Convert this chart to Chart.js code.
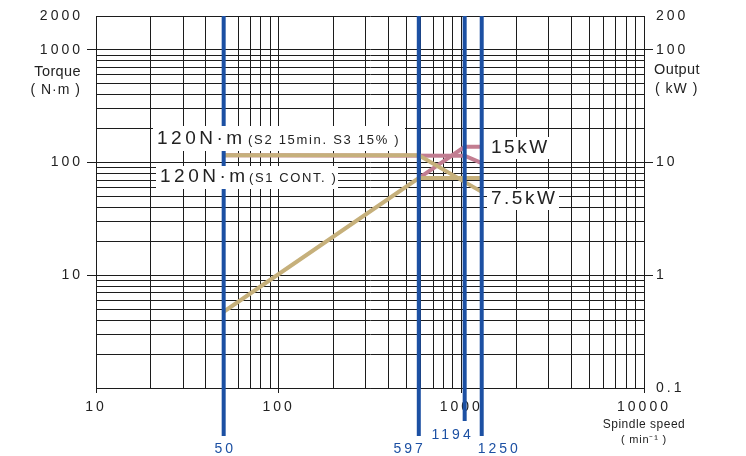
<!DOCTYPE html>
<html><head><meta charset="utf-8">
<script src="https://cdn.jsdelivr.net/npm/chart.js@4/dist/chart.umd.min.js"></script>
<style>html,body{margin:0;padding:0;background:#fff;overflow:hidden}#wrap{width:746px;height:456px;position:relative}canvas{display:block}</style>
</head><body><div id="wrap"><canvas id="c" width="746" height="456" style="width:746px;height:456px"></canvas></div>
<script>
// ---- data ----
const xTickValues = [10,20,30,40,50,60,70,80,90,100,200,300,400,500,600,700,800,900,1000,2000,3000,4000,5000,6000,7000,8000,9000,10000];
const xTickLabels = ['10','100','1000','10000'];
const torqueTickValues = [1,2,3,4,5,6,7,8,9,10,20,30,40,50,60,70,80,90,100,200,300,400,500,600,700,800,900,1000,2000];
const torqueTickLabels = ['10','100','1000','2000'];
const outputTickValues = [0.1,1,10,100,200];
const outputTickLabels = ['0.1','1','10','100','200'];

const s1TorqueSpeed = [50, 585, 1293];
const s1Torque      = [116, 116, 55];
const s1PowerSpeed  = [50, 585, 1293];
const s1Power       = [0.475, 7.3, 7.3];
const s2TorqueSpeed = [50, 1043, 1293];
const s2Torque      = [116, 115, 99];
const s2PowerSpeed  = [580, 1043, 1293];
const s2Power       = [7.2, 13.8, 13.8];

const markerSpeeds = [50, 585, 1043, 1293];
const markerLabels = ['50', '597', '1194', '1250'];

// ---- styles ----
const FONT = 'Liberation Sans, Arial, sans-serif';
const INK = '#222';
const GRID = '#1c1c1c';
const BLUE = '#1c50a3';
const TAN = '#c6b07b';
const PINK = '#c27d91';

const pts = (xs, ys) => xs.map((x, i) => ({x, y: ys[i]}));

const markerDrop = [48, 48, 33, 48];
const markerLabelPos = [ {dx:0, y:449, align:'center'}, {dx:7, y:449, align:'right'}, {dx:9, y:435, align:'right'}, {dx:-4, y:449, align:'left'} ];

const overlay = {
  id: 'overlay',
  afterDatasetsDraw(chart) {
    const ctx = chart.ctx, xs = chart.scales.x, area = chart.chartArea;
    ctx.save();
    markerSpeeds.forEach((v, i) => {
      const x = xs.getPixelForValue(v);
      ctx.strokeStyle = BLUE; ctx.lineWidth = 4; ctx.lineCap = 'butt';
      ctx.beginPath(); ctx.moveTo(x, area.top); ctx.lineTo(x, area.bottom + markerDrop[i]); ctx.stroke();
      const p = markerLabelPos[i];
      ctx.font = '14px ' + FONT; ctx.letterSpacing = '3px';
      ctx.fillStyle = BLUE; ctx.textBaseline = 'middle'; ctx.textAlign = p.align;
      ctx.fillText(markerLabels[i], x + p.dx + (p.align==='center'?1.5:0), p.y);
    });
    ctx.textAlign = 'left'; ctx.textBaseline = 'middle';
    const box = (x0, y0, x1, y1) => { ctx.fillStyle = '#fff'; ctx.fillRect(x0, y0, x1 - x0, y1 - y0); };
    const txt = (s, x, y, size, ls, color) => {
      ctx.font = size + 'px ' + FONT; ctx.letterSpacing = ls + 'px'; ctx.fillStyle = color || INK;
      ctx.fillText(s, x, y);
    };
    box(153, 126, 405, 151);
    txt('120N·m', 157, 139, 19, 3.5);
    txt('(S2 15min. S3 15% )', 248, 140, 13, 1.7);
    box(156, 166, 338, 189);
    txt('120N·m', 160, 177, 19, 3.5);
    txt('(S1 CONT. )', 249, 178, 13, 1.6);
    box(488, 137, 553, 159);
    txt('15kW', 491, 148, 19, 2.5);
    box(487, 189, 559, 210);
    txt('7.5kW', 491, 199, 19, 2.5);
    ctx.textAlign = 'right';
    txt('Torque', 81, 72, 14.5, 0.4);
    txt('( N·m )', 81, 90, 14, 1);
    ctx.textAlign = 'left';
    txt('Output', 654, 70, 14.5, 0.4);
    txt('( kW )', 655, 89, 14, 1);
    ctx.textAlign = 'center';
    txt('Spindle speed', 644, 425, 12, 0.5);
    txt('( min⁻¹ )', 644, 440, 11, 0.8);
    ctx.restore();
  },
  beforeDraw(chart) { chart.ctx.letterSpacing = '3px'; },
  afterDraw(chart) { chart.ctx.letterSpacing = '0px'; }
};

const tickFont = {family: FONT, size: 14};

new Chart(document.getElementById('c'), {
  type: 'line',
  data: {
    datasets: [
      {label: 'S1 torque', data: pts(s1TorqueSpeed, s1Torque), yAxisID: 'yL', borderColor: TAN, borderWidth: 4, order: 1},
      {label: 'S1 output', data: pts(s1PowerSpeed, s1Power), yAxisID: 'yR', borderColor: TAN, borderWidth: 4, order: 1},
      {label: 'S2 torque', data: pts(s2TorqueSpeed, s2Torque), yAxisID: 'yL', borderColor: PINK, borderWidth: 4, order: 2},
      {label: 'S2 output', data: pts(s2PowerSpeed, s2Power), yAxisID: 'yR', borderColor: PINK, borderWidth: 4, order: 2}
    ]
  },
  options: {
    responsive: false, maintainAspectRatio: false, animation: false, devicePixelRatio: 1,
    layout: {padding: {top: 16, left: 0, right: 0, bottom: 0}},
    elements: {point: {radius: 0, hoverRadius: 0}, line: {tension: 0, borderCapStyle: 'butt', borderJoinStyle: 'miter'}},
    plugins: {legend: {display: false}, tooltip: {enabled: false}},
    events: [],
    scales: {
      x: {
        type: 'logarithmic', position: 'bottom', min: 10, max: 10000,
        afterBuildTicks: s => { s.ticks = xTickValues.map(v => ({value: v})); },
        afterFit: s => { s.height = 68; },
        border: {display: true, color: GRID, width: 1},
        grid: {color: GRID, lineWidth: 1, drawTicks: true, tickLength: 5,
               tickColor: c => (c.tick && xTickLabels.includes(String(c.tick.value))) ? GRID : 'rgba(0,0,0,0)'},
        ticks: {autoSkip: false, maxRotation: 0, minRotation: 0, padding: 6, color: INK, font: tickFont,
                callback: v => xTickLabels.includes(String(v)) ? String(v) : ''}
      },
      yL: {
        type: 'logarithmic', position: 'left', min: 1, max: 2000,
        afterBuildTicks: s => { s.ticks = torqueTickValues.map(v => ({value: v})); },
        afterFit: s => { s.width = 96; },
        border: {display: true, color: GRID, width: 1},
        grid: {color: GRID, lineWidth: 1, drawTicks: true, tickLength: 9,
               tickColor: c => (c.tick && [10,100,1000].includes(c.tick.value)) ? GRID : 'rgba(0,0,0,0)'},
        ticks: {autoSkip: false, padding: 4, color: INK, font: tickFont,
                callback: v => torqueTickLabels.includes(String(v)) ? String(v) : ''}
      },
      yR: {
        type: 'logarithmic', position: 'right', min: 0.1, max: 200,
        afterBuildTicks: s => { s.ticks = outputTickValues.map(v => ({value: v})); },
        afterFit: s => { s.width = 102; },
        border: {display: true, color: GRID, width: 1},
        grid: {drawOnChartArea: false, color: GRID, lineWidth: 1, drawTicks: true, tickLength: 9,
               tickColor: c => (c.tick && [1,10,100].includes(c.tick.value)) ? GRID : 'rgba(0,0,0,0)'},
        ticks: {autoSkip: false, padding: 3, color: INK, font: tickFont,
                callback: v => outputTickLabels.includes(String(v)) ? String(v) : ''}
      }
    }
  },
  plugins: [overlay]
});
</script></body></html>
